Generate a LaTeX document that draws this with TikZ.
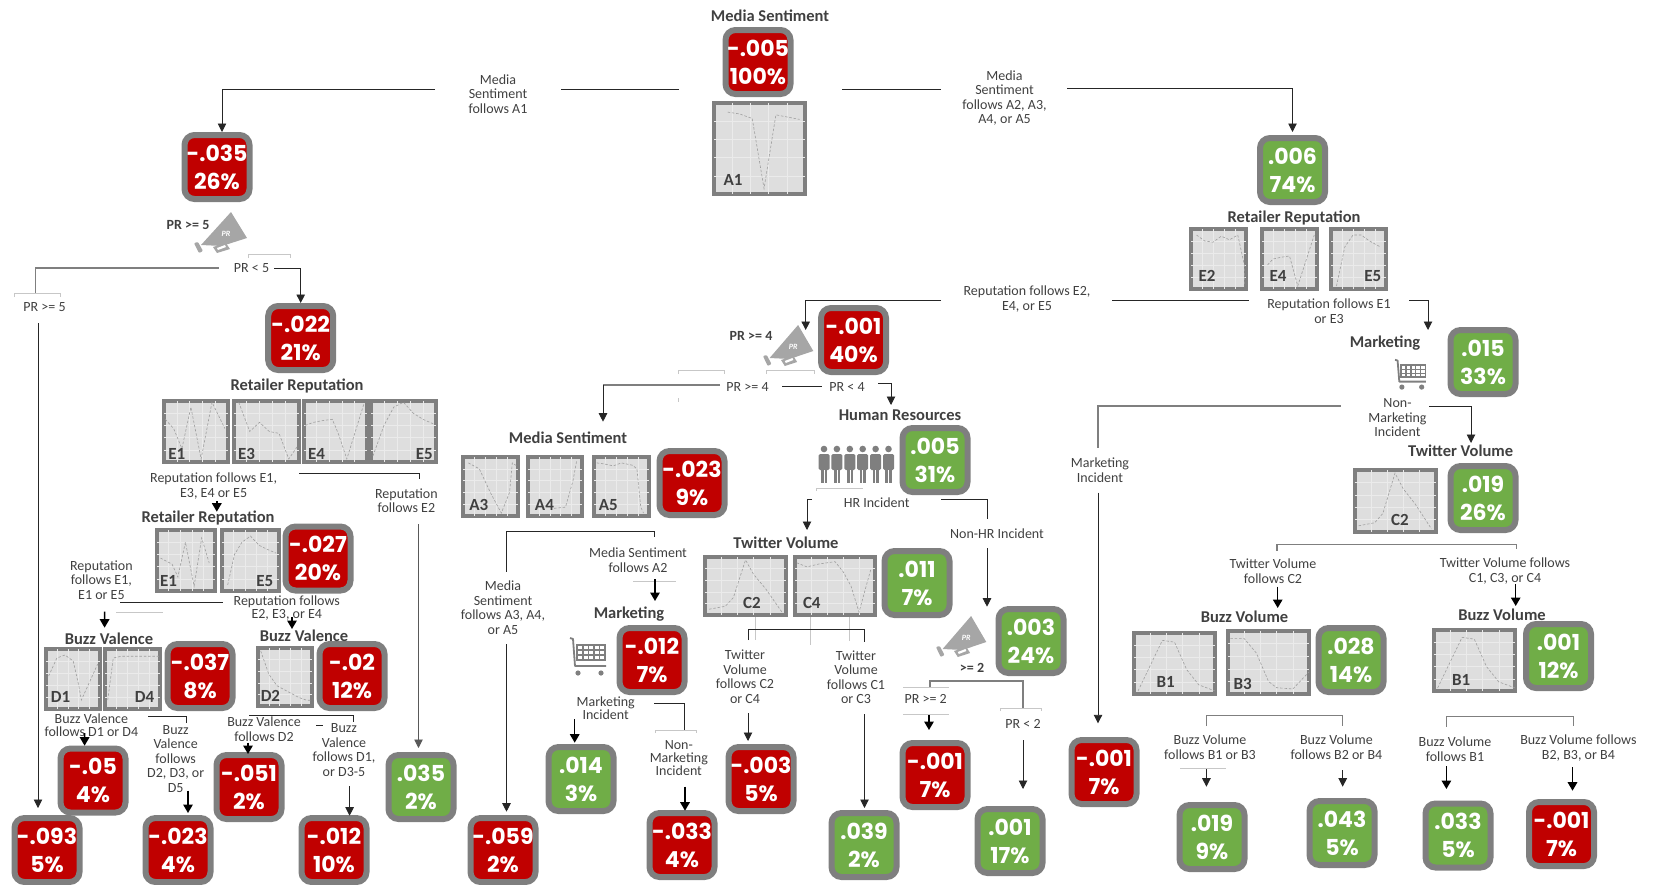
\documentclass[tikz,border=0pt]{standalone}
\usepackage{fontspec}
\setmainfont{Carlito}
\newfontfamily\statf{Poppins}
\usetikzlibrary{calc,arrows.meta}
\definecolor{cred}{HTML}{C00000}
\definecolor{cgreen}{HTML}{70AD47}
\definecolor{cedge}{HTML}{7F7F7F}
\definecolor{ctxt}{HTML}{404040}
\definecolor{cchart}{HTML}{DEDEDE}
\definecolor{cicon}{HTML}{A6A6A6}
\tikzset{
  statbox/.style={draw=cedge,line width=6pt,rounded corners=10pt,minimum width=65pt,minimum height=64pt,inner sep=0pt,outer sep=0pt,text=white,align=center,font=\statf\bfseries\fontsize{22}{28}\selectfont},
  statred/.style={statbox,fill=cred},
  statgreen/.style={statbox,fill=cgreen},
  chartnode/.style={draw=cedge,line width=4pt,fill=cchart,inner sep=0pt,outer sep=0pt},
  chartgrid/.style={draw=black!8,line width=.4pt},
  chartcurve/.style={draw=black!38,line width=.6pt,dashed,dash pattern=on 2.5pt off 1.8pt},
  chartlab/.style={text=ctxt,font=\bfseries\fontsize{17}{17}\selectfont,inner sep=0pt},
  lbl/.style={text=ctxt,align=center,inner sep=0pt,font=\fontsize{14}{14.5}\selectfont},
  lbltight/.style={text=ctxt,align=center,inner sep=0pt,font=\fontsize{14}{12.8}\selectfont},
  ttl/.style={text=ctxt,inner sep=0pt,font=\bfseries\fontsize{16.5}{18}\selectfont},
  prlab/.style={text=ctxt,inner sep=0pt,font=\bfseries\fontsize{14}{15}\selectfont},
  ln/.style={draw=black!85,line width=.9pt},
  arr/.style={ln,-{Triangle[length=8.5pt,width=8.5pt]}},
  arrb/.style={draw=black,line width=1.5pt,-{Triangle[length=8.5pt,width=9.5pt]}},
  glin/.style={draw=cedge,line width=1.2pt},
  brk/.style={draw=black!22,line width=.6pt},
}
\newcommand\stat[6]{\node[stat#6] (#1) at (#2,#3) {#4\\#5};}
\newcommand\chartfig[8]{%
  \pgfmathsetmacro\cw{#4-4}\pgfmathsetmacro\ch{#5-4}%
  \node[chartnode,minimum width=\cw pt,minimum height=\ch pt] (#1) at (#2,#3) {};
  \begin{scope}[shift={(#1.north west)},x=\cw pt,y=-\ch pt]
    \foreach \g in {.2,.4,.6,.8}{\draw[chartgrid] (\g,0)--(\g,1);\draw[chartgrid] (0,\g)--(1,\g);}
    \draw[chartcurve] plot coordinates {#8};
    \node[chartlab] at (#7) {#6};
  \end{scope}}
\newcommand\mega[4]{%
  \begin{scope}[shift={(#1,#2)},x=#3pt,y=-#4pt]
    \fill[cicon] (38,0) -- (54,26) -- (29,34) -- (8,33) -- cycle;
    \fill[cicon,rounded corners=1pt] (1,31) -- (5,30) -- (10,39) -- (6,41) -- cycle;
    \fill[cicon] (20,35) -- (33,31) -- (37,37) -- (24,41) -- cycle;
    \fill[white] (24,36) -- (32,33) -- (33,35) -- (25,38) -- cycle;
    \node[text=white,inner sep=0pt,font=\bfseries\itshape\fontsize{8}{8}\selectfont] at (33,22) {PR};
  \end{scope}}
\newcommand\cart[4]{%
  \begin{scope}[shift={(#1,#2)},x=#3pt,y=-#4pt]
    \draw[cedge,line width=1.8pt,line join=round] (0,1) -- (3,2) -- (5,29) -- (36,29);
    \fill[cedge] (6,7) rectangle (36,24);
    \foreach \i in {0,...,4}{\foreach \j in {0,1,2}{\fill[white] (8+5.6*\i,9+5*\j) rectangle (12+5.6*\i,12.4+5*\j);}}
    \fill[cedge] (8,36) circle (2.6pt) (31,36) circle (2.6pt);
  \end{scope}}
\newcommand\people[2]{%
  \begin{scope}[shift={(#1,#2)}]
    \foreach \k in {0,...,5}{
      \fill[cedge] (6.5+12.9*\k,4) circle (3.3pt);
      \fill[cedge,rounded corners=1.5pt] (1+12.9*\k,9) rectangle (12+12.9*\k,25);
      \fill[cedge] (3.4+12.9*\k,23) rectangle (9.6+12.9*\k,38);
      \draw[white,line width=.6pt] (6.5+12.9*\k,25) -- (6.5+12.9*\k,38);
    }
  \end{scope}}
\pagestyle{empty}
\begin{document}
\begin{tikzpicture}[x=1pt,y=-1pt]
\useasboundingbox (0,0) rectangle (1654,884);
% ---------- stat boxes
\stat{sRoot}{758}{62}{-.005}{100\%}{red}
\stat{sA}{217}{167}{-.035}{26\%}{red}
\stat{sB}{300.7}{338}{-.022}{21\%}{red}
\stat{sC}{1292.5}{170}{.006}{74\%}{green}
\stat{sD}{853.5}{340}{-.001}{40\%}{red}
\stat{sE}{1483}{362}{.015}{33\%}{green}
\stat{sF}{935}{460}{.005}{31\%}{green}
\stat{sG}{692}{483}{-.023}{9\%}{red}
\stat{sH}{917}{583}{.011}{7\%}{green}
\stat{sI}{652}{660}{-.012}{7\%}{red}
\stat{sJ}{581}{779}{.014}{3\%}{green}
\stat{sK}{503}{850}{-.059}{2\%}{red}
\stat{sL}{682}{845}{-.033}{4\%}{red}
\stat{sM}{761}{779}{-.003}{5\%}{red}
\stat{sN}{864}{845}{.039}{2\%}{green}
\stat{sO}{1031}{641}{.003}{24\%}{green}
\stat{sP}{935}{775}{-.001}{7\%}{red}
\stat{sQ}{1010}{841}{.001}{17\%}{green}
\stat{sR}{200}{676}{-.037}{8\%}{red}
\stat{sS}{352}{676}{-.02}{12\%}{red}
\stat{sT}{318}{558.5}{-.027}{20\%}{red}
\stat{sU}{93}{780.5}{-.05}{4\%}{red}
\stat{sV}{249}{787}{-.051}{2\%}{red}
\stat{sW}{421}{787}{.035}{2\%}{green}
\stat{sX}{47}{850}{-.093}{5\%}{red}
\stat{sY}{178}{850}{-.023}{4\%}{red}
\stat{sZ}{334}{850}{-.012}{10\%}{red}
\stat{sAA}{1483}{498}{.019}{26\%}{green}
\stat{sAB}{1351}{660}{.028}{14\%}{green}
\stat{sAC}{1558.5}{656}{.001}{12\%}{green}
\stat{sAD}{1104}{772}{-.001}{7\%}{red}
\stat{sAE}{1212}{837}{.019}{9\%}{green}
\stat{sAF}{1342}{833}{.043}{5\%}{green}
\stat{sAG}{1458}{835.5}{.033}{5\%}{green}
\stat{sAH}{1561.5}{834}{-.001}{7\%}{red}
% ---------- charts
\chartfig{cA1}{759.5}{148.5}{95}{95}{A1}{.21,.85}{(.15,.1) (.28,.12) (.42,.17) (.55,.94) (.68,.13) (.94,.18)}
\chartfig{cE1}{196}{431.5}{68}{65}{E1}{.2,.87}{(.02,.3) (.15,.45) (.28,.78) (.42,.1) (.58,.95) (.75,.02) (.95,.45)}
\chartfig{cE3}{266}{431.5}{69}{65}{E3}{.2,.87}{(.08,.02) (.25,.5) (.4,.35) (.55,.5) (.7,.53) (.85,.95) (.98,.75)}
\chartfig{cE4}{335.5}{431.5}{67}{65}{E4}{.2,.87}{(.02,.4) (.15,.35) (.3,.32) (.45,.3) (.55,.55) (.68,.95) (.95,.05)}
\chartfig{cE5}{403.5}{431.5}{69}{65}{E5}{.82,.87}{(.03,.9) (.2,.4) (.35,.1) (.5,.02) (.65,.2) (.8,.3) (.97,.38)}
\chartfig{cE1b}{186}{560.5}{62}{65}{E1}{.2,.83}{(.06,.46) (.26,.56) (.36,.77) (.49,.2) (.64,.92) (.77,.13) (.9,.54)}
\chartfig{cE5b}{250.5}{560.5}{61}{65}{E5}{.75,.83}{(.1,.9) (.22,.4) (.35,.2) (.5,.1) (.65,.25) (.8,.32) (.95,.38)}
\chartfig{cD1}{73.2}{679}{58.5}{64}{D1}{.27,.8}{(.05,.45) (.2,.15) (.35,.1) (.5,.2) (.6,.6) (.65,.85) (.95,.25)}
\chartfig{cD4}{132.5}{679}{59}{64}{D4}{.72,.8}{(.05,.85) (.15,.15) (.3,.12) (.98,.12)}
\chartfig{cD2}{285}{677}{58}{62}{D2}{.23,.82}{(.05,.05) (.2,.45) (.35,.65) (.55,.75) (.75,.85) (.9,.9) (1,.9)}
\chartfig{cA3}{490.3}{486.5}{59}{63}{A3}{.29,.82}{(.1,.1) (.3,.2) (.5,.6) (.7,.95) (.85,.6) (.9,.1) (.98,.15)}
\chartfig{cA4}{555.2}{486.5}{58}{63}{A4}{.3,.82}{(.48,.87) (.69,.85) (.83,.4) (.9,.05)}
\chartfig{cA5}{621.5}{486.5}{59}{63}{A5}{.26,.82}{(.05,.1) (.2,.12) (.35,.15) (.5,.1) (.7,.14) (.78,.2) (.85,.85) (.9,.95)}
\chartfig{cC2}{745.5}{586}{85}{62}{C2}{.58,.8}{(.05,.9) (.25,.85) (.35,.7) (.5,.05) (.6,.3) (.75,.55) (.95,.95)}
\chartfig{cC4}{835}{586}{84}{62}{C4}{.21,.8}{(.02,.1) (.15,.17) (.3,.12) (.5,.08) (.6,.25) (.7,.5) (.8,.95) (.95,.2)}
\chartfig{cE2r}{1218.5}{259}{59}{64}{E2}{.29,.78}{(.1,.1) (.25,.2) (.4,.22) (.55,.12) (.7,.18) (.85,.1) (.97,.6) (.97,.95)}
\chartfig{cE4r}{1289.5}{259}{59}{64}{E4}{.29,.78}{(.1,.6) (.2,.5) (.35,.47) (.5,.45) (.65,.95) (.95,.1)}
\chartfig{cE5r}{1358.5}{259}{59}{64}{E5}{.76,.78}{(.1,.95) (.25,.3) (.4,.1) (.55,.1) (.7,.2) (.9,.3)}
\chartfig{cC2r}{1395}{501}{85}{66}{C2}{.56,.8}{(.05,.9) (.25,.85) (.35,.7) (.5,.05) (.6,.3) (.75,.55) (.95,.95)}
\chartfig{cB1}{1174.5}{663.5}{85}{65}{B1}{.39,.8}{(.05,.95) (.35,.12) (.5,.15) (.65,.6) (.8,.85) (1,.95)}
\chartfig{cB3}{1268.5}{662.5}{85}{67}{B3}{.18,.84}{(.03,.12) (.2,.12) (.35,.35) (.5,.8) (.6,.9) (.8,.92) (1,.65)}
\chartfig{cB1r}{1474.3}{660.5}{85.5}{65}{B1}{.34,.82}{(.05,.95) (.35,.12) (.5,.15) (.65,.6) (.8,.85) (1,.95)}
% ---------- titles
\node[ttl] (tRoot) at (770,16) {Media Sentiment};
\node[ttl] (tR1) at (297,386) {Retailer Reputation};
\node[ttl] (tMS2) at (568,438) {Media Sentiment};
\node[ttl] (tHR) at (900,415) {Human Resources};
\node[ttl] (tRr) at (1294,218) {Retailer Reputation};
\node[ttl] (tMk) at (1385,343) {Marketing};
\node[ttl] (tTV2) at (1460.6,451) {Twitter Volume};
\node[ttl] (tR2) at (208,518) {Retailer Reputation};
\node[ttl] (tBV1) at (109,639) {Buzz Valence};
\node[ttl] (tBV2) at (304,636) {Buzz Valence};
\node[ttl] (tTV) at (786,543) {Twitter Volume};
\node[ttl] (tM2) at (629,614) {Marketing};
\node[ttl] (tBv1) at (1244.5,617) {Buzz Volume};
\node[ttl] (tBv2) at (1502,615) {Buzz Volume};
% ---------- labels
\node[lbl] (lm) at (498,94) {Media\\Sentiment\\follows A1};
\node[lbl] (lr) at (1004.5,98) {Media\\Sentiment\\follows A2, A3,\\A4, or A5};
\node[lbl] (lp5) at (251.5,268) {PR < 5};
\node[lbl] (lp5b) at (44.5,307) {PR >= 5};
\node[prlab] (hp5) at (188,225) {PR >= 5};
\node[prlab] (hp4) at (751,336) {PR >= 4};
\node[prlab] (hp2) at (972,668) {>= 2};
\node[lbl] (lr1) at (213.6,486) {Reputation follows E1,\\E3, E4 or E5};
\node[lbl] (lr2) at (406.4,500.6) {Reputation\\follows E2};
\node[lbl] (lr3) at (101.4,580) {Reputation\\follows E1,\\E1 or E5};
\node[lbltight] (lr4) at (286.8,608) {Reputation follows\\E2, E3, or E4};
\node[lbltight] (lb1) at (91.4,725) {Buzz Valence\\follows D1 or D4};
\node[lbl] (lb2) at (175.7,759) {Buzz\\Valence\\follows\\D2, D3, or\\D5};
\node[lbl] (lb3) at (264,729) {Buzz Valence\\follows D2};
\node[lbl] (lb4) at (344,750) {Buzz\\Valence\\follows D1,\\or D3-5};
\node[lbl] (lre) at (1027,299) {Reputation follows E2,\\E4, or E5};
\node[lbl] (lrf) at (1329,311) {Reputation follows E1\\or E3};
\node[lbl] (lp4) at (747.5,387) {PR >= 4};
\node[lbl] (lp4b) at (847,386.7) {PR < 4};
\node[lbl] (lhr) at (876.7,503) {HR Incident};
\node[lbl] (lnh) at (997,533.7) {Non-HR Incident};
\node[lbl] (lp2) at (925.7,699) {PR >= 2};
\node[lbl] (lp2b) at (1023,724) {PR < 2};
\node[lbl] (lmm) at (503,607.7) {Media\\Sentiment\\follows A3, A4,\\or A5};
\node[lbl] (lma2) at (638,560) {Media Sentiment\\follows A2};
\node[lbltight] (lmi) at (605.7,708.5) {Marketing\\Incident};
\node[lbltight] (lnm) at (678.8,758) {Non-\\Marketing\\Incident};
\node[lbl] (lc2) at (745,676.7) {Twitter\\Volume\\follows C2\\or C4};
\node[lbl] (lc1) at (856,677) {Twitter\\Volume\\follows C1\\or C3};
\node[lbl] (lnm2) at (1397.5,418) {Non-\\Marketing\\Incident};
\node[lbl] (lmi2) at (1100,470) {Marketing\\Incident};
\node[lbl] (lt1) at (1273,571) {Twitter Volume\\follows C2};
\node[lbl] (lt2) at (1505,571) {Twitter Volume follows\\C1, C3, or C4};
\node[lbl] (lb5) at (1210,747) {Buzz Volume\\follows B1 or B3};
\node[lbl] (lb6) at (1336.4,747) {Buzz Volume\\follows B2 or B4};
\node[lbl] (lb7) at (1455,749) {Buzz Volume\\follows B1};
\node[lbl] (lb8) at (1578.4,748) {Buzz Volume follows\\B2, B3, or B4};
% ---------- icons
\mega{193}{212}{1}{1}
\mega{762}{325}{.95}{1}
\mega{935}{616}{.95}{1}
\cart{570}{637}{1}{1}
\cart{1395}{359}{.86}{.78}
\people{817.5}{445}
% ---------- faint rules
\draw[brk] (248,258) -- (248,254) -- (290,254) -- (290,258);
\draw[brk] (14,297) -- (14,293) -- (60,293) -- (60,297);
\draw[brk] (678,374) -- (678,370) -- (724,370) -- (724,374);
\draw[brk] (678,398) -- (678,402);
\draw[brk] (766.6,374) -- (766.6,370) -- (814,370) -- (814,374);
\draw[brk] (816,491) -- (816,488) -- (863,488);
\draw[brk] (116,612) -- (162.5,612);
\draw[brk] (903,687) -- (949,687);
\draw[brk] (903,714) -- (949,714);
\draw[brk] (1000,711) -- (1000,708.7) -- (1041,708.7) -- (1041,711);
\draw[brk] (633,581) -- (675.5,581);
\draw[brk] (655.5,733) -- (655.5,730.7) -- (696,730.7) -- (696,733);
\draw[brk] (1180,768) -- (1226,768);
\draw[brk] (755,617) -- (755,640);
\draw[brk] (810,617) -- (810,645);
\draw[brk] (849,617) -- (849,641);
% ---------- connectors
\draw[ln] ($(sRoot)+(-79,27)$) -- ($(lm)+(63,-5)$);
\draw[arr] ($(lm)+(-63,-5)$) -| ($(sA)+(5,-35)$);
\draw[ln] ($(sRoot)+(84,27)$) -- ($(lr)+(-63.5,-9)$);
\draw[arr] ($(lr)+(62.5,-9.5)$) -| ($(sC)+(0,-38)$);
\draw[glin] ($(lp5)+(-33,0)$) -| ($(lp5b)+(-9,-14)$);
\draw[arr] ($(lp5)+(22.5,0)$) -| ($(sB)+(0,-35)$);
\draw[arr] ($(lp5b)+(-6.5,16)$) -- ($(sX)+(-9,-42)$);
\draw[arrb] ($(lr1)+(3.2,15)$) -- ($(tR2)+(8.8,-6.3)$);
\draw[ln] ($(lr1)+(85.4,-13)$) -| ($(lr2)+(12.6,-21.6)$);
\draw[arr,draw=cedge!70!black] ($(lr2)+(12.1,23.4)$) -- ($(sW)+(-2.5,-39)$);
\draw[ln] ($(lr3)+(18.6,22.7)$) -- ($(lr4)+(-63.8,-5.3)$);
\draw[arrb] ($(lr3)+(3.2,31.7)$) -- ($(tBV1)+(-4.4,-11.3)$);
\draw[arrb] ($(lr4)+(5.2,9)$) -- ($(tBV2)+(-12,-7)$);
\draw[arrb] ($(lb1)+(-6.8,8)$) -- ($(sU)+(-8.4,-34.8)$);
\draw[ln] ($(lb1)+(56.6,-9)$) -| ($(lb2)+(10.7,-36)$);
\draw[arrb] ($(lb2)+(12.3,31.7)$) -- ($(sY)+(10,-37)$);
\draw[arrb] ($(lb3)+(-16,13.7)$) -- ($(sV)+(-1,-33)$);
\draw[ln] ($(lb3)+(-15,-14)$) -| ($(lb4)+(9.6,-28.3)$);
\draw[ln] ($(lb4)+(-28,-25)$) -- ($(lb4)+(-21.5,-25)$);
\draw[arr] ($(lb4)+(5.6,36)$) -- ($(sZ)+(15.6,-34.3)$);
\draw[arr] ($(lre)+(-86,1)$) -| ($(sD)+(-47.8,-10)$);
\draw[ln] ($(lre)+(85,1)$) -- ($(lrf)+(-80,-11)$);
\draw[arr] ($(lrf)+(80,-11)$) -| ($(tMk)+(43,-13)$);
\draw[glin] ($(lp4)+(-27.5,-2)$) -- ($(lp4)+(-144.5,-2)$);
\draw[arr] ($(lp4)+(-144.5,-2)$) -- ($(tMS2)+(35,-16.3)$);
\draw[ln] ($(lp4)+(34.9,-.3)$) -- ($(lp4b)+(-25.4,0)$);
\draw[arr] ($(lp4b)+(31,-3.7)$) -| ($(tHR)+(-9,-10)$);
\draw[arr] ($(lhr)+(-64.7,-4)$) -| ($(tTV)+(21,-13)$);
\draw[ln] ($(lhr)+(64.1,-4)$) -| ($(lnh)+(-10,-14.7)$);
\draw[arr] ($(lnh)+(-10,14.3)$) -- ($(sO)+(-44,-34.3)$);
\draw[glin] ($(lp2)+(4.3,-12)$) -- ($(lp2)+(4.3,-18)$) -| ($(lp2b)+(0,-16)$);
\draw[arrb] ($(lp2)+(3.3,16)$) -- ($(sP)+(-6,-45)$);
\draw[arr] ($(lp2b)+(0,16)$) -- ($(sQ)+(13,-52)$);
\draw[ln] ($(lmm)+(3.5,-36)$) -- ($(lmm)+(3.5,-76)$) -| ($(lma2)+(16,-23)$);
\draw[arr] ($(lmm)+(3.5,36.3)$) -- ($(sK)+(3.5,-38.3)$);
\draw[arrb] ($(lma2)+(17,19)$) -- ($(tM2)+(26,-13)$);
\draw[arrb] ($(lmi)+(-31,10.5)$) -- ($(sJ)+(-6.3,-36.3)$);
\draw[ln] ($(lmi)+(48.3,-5.5)$) -| ($(lnm)+(5.2,-28)$);
\draw[arrb] ($(lnm)+(6.2,28.7)$) -- ($(sL)+(3,-34.3)$);
\draw[ln] ($(lc2)+(3,-36.7)$) -- ($(lc2)+(3,-47.7)$) -| ($(lc1)+(8.5,-35.3)$);
\draw[arr] ($(lc2)+(3,36.3)$) -- ($(sM)+(-13,-38)$);
\draw[arr] ($(lc1)+(8.5,37)$) -- ($(sN)+(.5,-37)$);
\draw[glin] ($(lnm2)+(-56.7,-12)$) -| ($(lmi2)+(-2,-22)$);
\draw[arr] ($(lmi2)+(-2,22.7)$) -- ($(sAD)+(-6,-48.7)$);
\draw[arr] ($(lnm2)+(31.5,-12)$) -| ($(tTV2)+(10.4,-8)$);
\draw[glin] ($(lt1)+(4,-20.3)$) -- ($(lt1)+(4,-26.5)$) -| ($(lt2)+(11.5,-22.3)$);
\draw[arrb] ($(lt1)+(4.7,15.7)$) -- ($(tBv1)+(33.2,-9)$);
\draw[arrb] ($(lt2)+(10.7,13)$) -- ($(tBv2)+(13.7,-9)$);
\draw[glin] ($(lb5)+(-3.6,-21)$) -- ($(lb5)+(-3.6,-31.7)$) -| ($(lb6)+(6.3,-21)$);
\draw[arr] ($(lb5)+(-3.6,22)$) -- ($(sAE)+(-5.6,-50.3)$);
\draw[arr] ($(lb6)+(6.3,23)$) -- ($(sAF)+(.7,-46.3)$);
\draw[glin] ($(lb7)+(-8.6,-22.3)$) -- ($(lb7)+(-8.6,-32.3)$) -| ($(lb8)+(-5.1,-22)$);
\draw[arrb] ($(lb7)+(-8.6,17)$) -- ($(sAG)+(-11.6,-46.5)$);
\draw[arrb] ($(lb8)+(-5.9,19)$) -- ($(sAH)+(11,-43.3)$);
\end{tikzpicture}
\end{document}
